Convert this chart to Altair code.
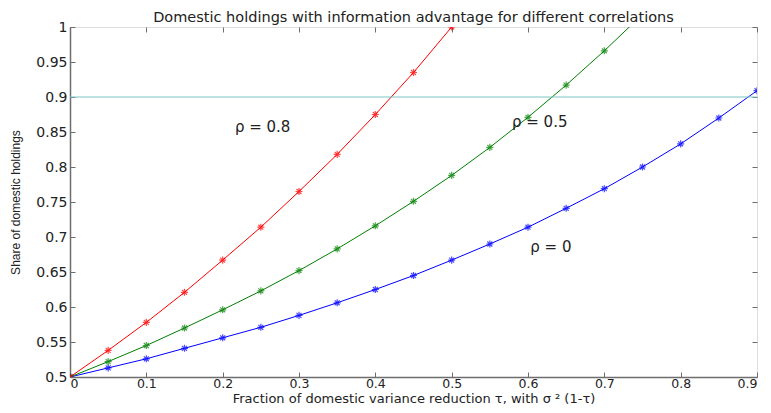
import altair as alt
import pandas as pd

tau = [0.0, 0.05, 0.1, 0.15, 0.2, 0.25, 0.3, 0.35, 0.4, 0.45, 0.5,
       0.55, 0.6, 0.65, 0.7, 0.75, 0.8, 0.85, 0.9]
share_rho0 = [0.5, 0.513, 0.526, 0.541, 0.556, 0.571, 0.588, 0.606, 0.625, 0.645,
              0.667, 0.690, 0.714, 0.741, 0.769, 0.800, 0.833, 0.870, 0.909]
share_rho05 = [0.5, 0.522, 0.545, 0.570, 0.596, 0.623, 0.652, 0.683, 0.716, 0.751,
               0.788, 0.828, 0.871, 0.917, 0.966, 1.018]
share_rho08 = [0.5, 0.538, 0.578, 0.621, 0.667, 0.714, 0.765, 0.818, 0.875, 0.935, 1.0]

series_names = ["rho0", "rho05", "rho08"]
series_colors = ["#0000ff", "#008000", "#ff0000"]

label_text = ["ρ = 0.8", "ρ = 0.5", "ρ = 0"]
label_x = [0.216, 0.579, 0.603]
label_y = [0.857, 0.864, 0.686]

x_ticks = [0, 0.1, 0.2, 0.3, 0.4, 0.5, 0.6, 0.7, 0.8, 0.9]
y_ticks = [0.5, 0.55, 0.6, 0.65, 0.7, 0.75, 0.8, 0.85, 0.9, 0.95, 1.0]

ref_level = [0.9]

rows = []
for name, vals in zip(series_names, [share_rho0, share_rho05, share_rho08]):
    for t, v in zip(tau, vals):
        rows.append({"tau": t, "share": v, "series": name})
df = pd.DataFrame(rows)
labels = pd.DataFrame({"tau": label_x, "share": label_y, "text": label_text})
ref = pd.DataFrame({"share": ref_level})

FONT = "DejaVu Sans"
AX = "#6e6e6e"
W, H = 687, 350

xs = alt.Scale(domain=[0, 0.9], nice=False)
ys = alt.Scale(domain=[0.5, 1.0], nice=False)

xaxis = alt.Axis(values=x_ticks, tickCount=20,
                 format=".1~f", labelFontSize=12.5, labelFont=FONT, labelColor="#222",
                 labelOverlap=False, labelPadding=0,
                 title="Fraction of domestic variance reduction τ, with σ ² (1-τ)",
                 titleFont=FONT, titleFontSize=13, titleFontWeight="normal",
                 titleColor="#222", titleBaseline="alphabetic", titleY=25,
                 ticks=False, domainColor=AX, domainWidth=1.5,
                 grid=True, gridColor=AX, gridDash=[5, H - 10, 5, 1000], gridWidth=1)
yaxis = alt.Axis(values=y_ticks, tickCount=20,
                 format=".2~f",
                 labelFontSize=14, labelFont=FONT, labelColor="#222",
                 labelOverlap=False, labelPadding=3,
                 title="Share of domestic holdings", titleFont="Liberation Sans",
                 titleFontSize=12, titleFontWeight="normal", titleColor="#222",
                 titlePadding=13,
                 ticks=False, domainColor=AX, domainWidth=1.5,
                 grid=True, gridColor=AX, gridDash=[5, W - 10, 5, 1000], gridWidth=1)

asterisk = "M-1,0L1,0M0,-1L0,1M-0.7,-0.7L0.7,0.7M-0.7,0.7L0.7,-0.7"

color = alt.Color("series:N", scale=alt.Scale(domain=series_names, range=series_colors), legend=None)

lines = alt.Chart(df).mark_line(strokeWidth=1, clip=True).encode(
    x=alt.X("tau:Q", scale=xs, axis=xaxis),
    y=alt.Y("share:Q", scale=ys, axis=yaxis),
    color=color,
    detail="series:N",
)

refline = alt.Chart(ref).mark_rule(color="#7ac5c5", strokeWidth=1).encode(
    y=alt.Y("share:Q", scale=ys, axis=yaxis)
)

points = alt.Chart(df).mark_point(shape=asterisk, size=50, filled=False, strokeWidth=1.2, clip=True).encode(
    x=alt.X("tau:Q", scale=xs, axis=xaxis),
    y=alt.Y("share:Q", scale=ys, axis=yaxis),
    color=color,
)

texts = alt.Chart(labels).mark_text(align="left", baseline="middle", font=FONT,
                                    fontSize=15, color="#222").encode(
    x=alt.X("tau:Q", scale=xs, axis=xaxis),
    y=alt.Y("share:Q", scale=ys, axis=yaxis),
    text="text:N",
)

chart = alt.layer(lines, refline, points, texts).properties(
    width=W, height=H,
    title=alt.TitleParams("Domestic holdings with information advantage for different correlations",
                          font=FONT, fontSize=14.5, fontWeight="normal", color="#222",
                          anchor="middle", offset=5, dy=10),
    autosize=alt.AutoSizeParams(type="none"),
    padding={"left": 62, "top": 19, "right": 6, "bottom": 28},
).configure_view(stroke=AX, strokeWidth=1.5).configure(background="white")

chart.save("out.html", embed_options={"renderer": "svg", "actions": False})
